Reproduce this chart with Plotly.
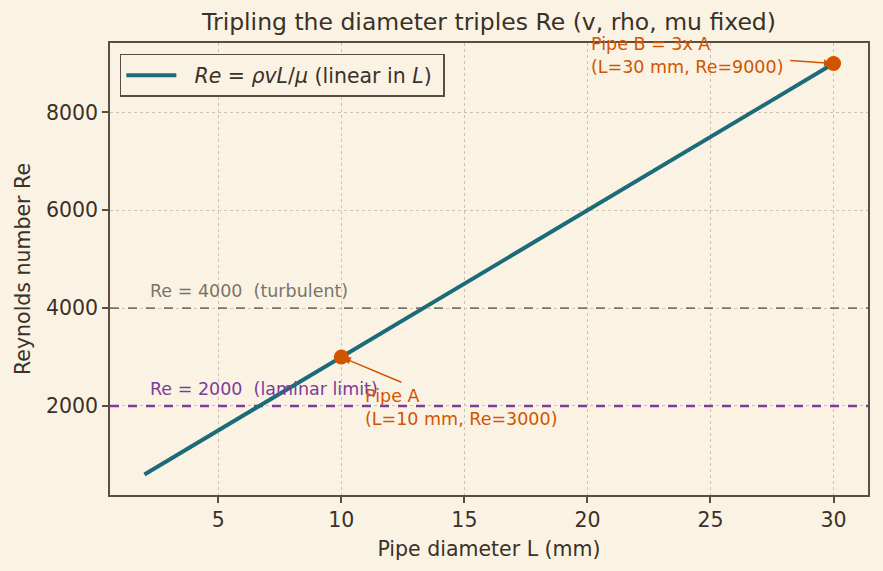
import plotly.graph_objects as go

# ---- data ----
L_mm = [2, 10, 30]
Re_line = [600, 3000, 9000]
pipe_L = [10, 30]
pipe_Re = [3000, 9000]
laminar_Re = 2000
turbulent_Re = 4000
x_ticks = [5, 10, 15, 20, 25, 30]
y_ticks = [2000, 4000, 6000, 8000]

BG = "#FAF3E4"
AX = "#5B4E40"
TXT = "#3A3128"
TEAL = "#1B6B78"
ORANGE = "#D35400"
PURPLE = "#7D3C98"
GRAY = "#7A7468"
FONT = "DejaVu Sans"

X_RANGE = [0.6, 31.4]
Y_RANGE = [180, 9420]

fig = go.Figure()

fig.add_trace(go.Scatter(
    x=X_RANGE, y=[laminar_Re, laminar_Re], mode="lines",
    line=dict(color=PURPLE, width=2.5, dash="dash"), showlegend=False, hoverinfo="skip"))
fig.add_trace(go.Scatter(
    x=X_RANGE, y=[turbulent_Re, turbulent_Re], mode="lines",
    line=dict(color=GRAY, width=1.8, dash="dash"), showlegend=False, hoverinfo="skip"))

fig.add_trace(go.Scatter(
    x=L_mm, y=Re_line, mode="lines",
    line=dict(color=TEAL, width=4),
    name="\u00a0\u00a0<i>Re</i> = <i>ρvL</i>/<i>μ</i> (linear in <i>L</i>)\u00a0"))

fig.add_trace(go.Scatter(
    x=pipe_L, y=pipe_Re, mode="markers",
    marker=dict(color=ORANGE, size=15), showlegend=False))

ann_font = dict(family=FONT, size=17.5)
anns = [
    dict(x=2.15, y=4355, text="Re = 4000\u00a0 (turbulent)", xanchor="left", yanchor="middle",
         showarrow=False, font=dict(ann_font, color=GRAY)),
    dict(x=2.15, y=2348, text="Re = 2000\u00a0 (laminar limit)", xanchor="left", yanchor="middle",
         showarrow=False, font=dict(ann_font, color=PURPLE)),
    dict(x=10.9, y=1960, text="Pipe A<br>(L=10 mm, Re=3000)", xanchor="left", yanchor="middle",
         align="left", showarrow=False, font=dict(ann_font, color=ORANGE)),
    dict(x=20.05, y=9170, text="Pipe B = 3x A<br>(L=30 mm, Re=9000)", xanchor="left", yanchor="middle",
         align="left", showarrow=False, font=dict(ann_font, color=ORANGE)),
    dict(x=pipe_L[0], y=pipe_Re[0], ax=12.5, ay=2471, axref="x", ayref="y", text="",
         showarrow=True, arrowhead=2, arrowsize=1, arrowwidth=1.5, arrowcolor=ORANGE, standoff=2),
    dict(x=pipe_L[1], y=pipe_Re[1], ax=28.18, ay=9065, axref="x", ayref="y", text="",
         showarrow=True, arrowhead=2, arrowsize=1, arrowwidth=1.5, arrowcolor=ORANGE, standoff=2),
]

fig.update_layout(
    width=883, height=571,
    margin=dict(l=110, r=15, t=43, b=76),
    paper_bgcolor=BG, plot_bgcolor=BG,
    font=dict(family=FONT, color=TXT, size=20),
    title=dict(text="Tripling the diameter triples Re (v, rho, mu fixed)",
               x=0.5, xref="paper", xanchor="center", y=0.962, yanchor="middle",
               font=dict(size=23.5, color=TXT)),
    showlegend=True,
    legend=dict(x=0.013, y=0.976, xanchor="left", yanchor="top",
                bgcolor=BG, bordercolor=AX, borderwidth=1.5, itemwidth=50,
                font=dict(size=20.5, color=TXT)),
    annotations=anns,
)

fig.update_xaxes(
    range=X_RANGE, tickvals=x_ticks, ticktext=[str(v) for v in x_ticks],
    showline=True, linecolor=AX, linewidth=1.5, mirror=True,
    ticks="outside", ticklen=6, tickwidth=1.5, tickcolor=AX,
    showgrid=True, gridcolor="#CBC2B2", griddash="dot", gridwidth=1, zeroline=False,
    tickfont=dict(size=20.5),
    title=dict(text="Pipe diameter L (mm)", font=dict(size=20.5), standoff=10),
    automargin=False,
)
fig.update_yaxes(
    range=Y_RANGE, tickvals=y_ticks, ticktext=[str(v) for v in y_ticks],
    showline=True, linecolor=AX, linewidth=1.5, mirror=True,
    ticks="outside", ticklen=6, tickwidth=1.5, tickcolor=AX,
    showgrid=True, gridcolor="#CBC2B2", griddash="dot", gridwidth=1, zeroline=False,
    tickfont=dict(size=20.5),
    title=dict(text="Reynolds number Re", font=dict(size=20.5), standoff=10),
    automargin=False,
)

fig.write_html("out.html")
